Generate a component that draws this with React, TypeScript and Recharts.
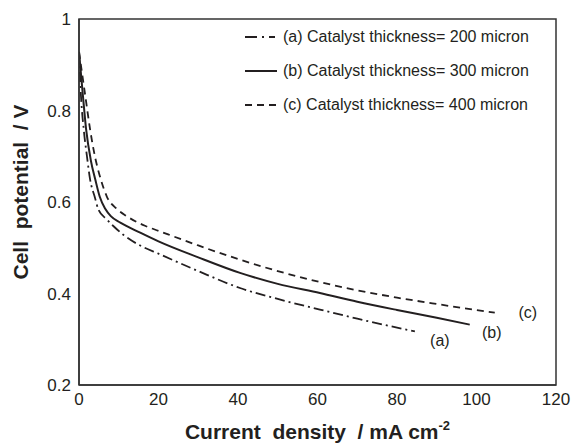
import React from "react";
import { LineChart, Line, XAxis, YAxis, ReferenceArea, Label } from "recharts";

const seriesA = [
  { x: 0, y: 0.928 }, { x: 0.5, y: 0.831 }, { x: 1.2, y: 0.758 }, { x: 2, y: 0.7 },
  { x: 2.8, y: 0.649 }, { x: 4, y: 0.61 }, { x: 4.9, y: 0.583 }, { x: 7, y: 0.562 },
  { x: 8.7, y: 0.547 }, { x: 11.2, y: 0.528 }, { x: 15.8, y: 0.503 }, { x: 20, y: 0.487 },
  { x: 30, y: 0.449 }, { x: 40.5, y: 0.412 }, { x: 50, y: 0.388 }, { x: 60.6, y: 0.365 },
  { x: 70, y: 0.345 }, { x: 84.5, y: 0.317 },
];
const seriesB = [
  { x: 0, y: 0.928 }, { x: 1, y: 0.831 }, { x: 1.8, y: 0.758 }, { x: 3, y: 0.69 },
  { x: 4.1, y: 0.649 }, { x: 5.2, y: 0.612 }, { x: 6.6, y: 0.585 }, { x: 8, y: 0.569 },
  { x: 10.4, y: 0.555 }, { x: 15.4, y: 0.533 }, { x: 20, y: 0.514 }, { x: 30, y: 0.479 },
  { x: 40.5, y: 0.445 }, { x: 50, y: 0.421 }, { x: 60.6, y: 0.401 }, { x: 70, y: 0.382 },
  { x: 80, y: 0.364 }, { x: 90, y: 0.347 }, { x: 98.3, y: 0.332 },
];
const seriesC = [
  { x: 0, y: 0.928 }, { x: 1.6, y: 0.831 }, { x: 2.8, y: 0.758 }, { x: 4, y: 0.7 },
  { x: 5.5, y: 0.649 }, { x: 7, y: 0.612 }, { x: 9.5, y: 0.585 }, { x: 12, y: 0.569 },
  { x: 16.6, y: 0.548 }, { x: 20, y: 0.537 }, { x: 30, y: 0.505 }, { x: 40.5, y: 0.474 },
  { x: 50, y: 0.449 }, { x: 60.6, y: 0.425 }, { x: 70, y: 0.407 }, { x: 80, y: 0.391 },
  { x: 90, y: 0.377 }, { x: 104.6, y: 0.358 },
];

const xTicks = [0, 20, 40, 60, 80, 100, 120];
const yTicks = [0.2, 0.4, 0.6, 0.8, 1];
const legendNames = [
  "(a) Catalyst thickness= 200 micron",
  "(b) Catalyst thickness= 300 micron",
  "(c) Catalyst thickness= 400 micron",
];
const endTags = ["(a)", "(b)", "(c)"];

const INK = "#231f20";
const FONT = "'Liberation Sans', Arial, Helvetica, sans-serif";
const dashes = ["10 4 2 4", undefined, "7 5"];

const makeEndLabel = (len: number, tag: string, dx: number, dy: number) => (props: any) => {
  const { x, y, index } = props;
  if (index !== len - 1) return null;
  return (
    <text x={x + dx} y={y + dy} textAnchor="middle" dominantBaseline="central" fontSize={16} fontFamily={FONT} fill={INK}>
      {tag}
    </text>
  );
};

const LegendBox = () => (
  <div style={{ position: "absolute", top: 20, left: 245, fontFamily: FONT, fontSize: 16, color: INK }}>
    {legendNames.map((n, i) => (
      <div key={n} style={{ height: 34, display: "flex", alignItems: "center", whiteSpace: "nowrap" }}>
        <svg width={34} height={10} style={{ marginRight: 4 }}>
          <line x1={0} y1={5} x2={32} y2={5} stroke={INK} strokeWidth={2} strokeDasharray={i === 0 ? "12 5 2 5 6 20" : dashes[i]} />
        </svg>
        <span>{n}</span>
      </div>
    ))}
  </div>
);

const YTitle = () => {
  const cx = 20;
  const cy = 192;
  return (
    <text x={cx} y={cy} transform={`rotate(-90 ${cx} ${cy})`} textAnchor="middle" dominantBaseline="central" fontSize={21} fontWeight="bold" fontFamily={FONT} fill={INK} style={{ whiteSpace: "pre" }}>
      {"Cell  potential  / V"}
    </text>
  );
};

const XTitle = (props: any) => {
  const vb = props.viewBox || {};
  const cx = vb.x + vb.width / 2;
  return (
    <text x={cx} y={439} textAnchor="middle" fontSize={21} fontWeight="bold" fontFamily={FONT} fill={INK} style={{ whiteSpace: "pre" }}>
      {"Current  density  / mA cm"}
      <tspan fontSize={13} dy={-9}>-2</tspan>
    </text>
  );
};

export default function App() {
  return (
    <div style={{ position: "absolute", left: 0, top: 0, width: 573, height: 447, background: "#fff" }}>
      <LineChart width={573} height={447} margin={{ top: 19, right: 17, left: 0, bottom: 32 }}>
        <XAxis
          type="number"
          dataKey="x"
          domain={[0, 120]}
          ticks={xTicks}
          tickLine={false}
          axisLine={{ stroke: "#333", strokeWidth: 1.5 }}
          tick={{ fontSize: 17, fontFamily: FONT, fill: INK }}
          height={30}
          allowDataOverflow
        >
          <Label content={XTitle} />
        </XAxis>
        <YAxis
          type="number"
          domain={[0.2, 1]}
          ticks={yTicks}
          tickLine={false}
          axisLine={{ stroke: "#333", strokeWidth: 1.5 }}
          tick={{ fontSize: 17, fontFamily: FONT, fill: INK }}
          tickFormatter={(v: number) => (v === 1 ? "1" : String(v))}
          width={79}
          allowDataOverflow
        >
          <Label content={YTitle} />
        </YAxis>
        <ReferenceArea x1={0} x2={120} y1={0.2} y2={1} fill="none" stroke="#333" strokeWidth={1.5} ifOverflow="visible" />
        <Line data={seriesA} dataKey="y" type="monotone" stroke={INK} strokeWidth={1.8} strokeDasharray={dashes[0]} dot={false} isAnimationActive={false} label={makeEndLabel(seriesA.length, endTags[0], 25, 9)} />
        <Line data={seriesB} dataKey="y" type="monotone" stroke={INK} strokeWidth={2} dot={false} isAnimationActive={false} label={makeEndLabel(seriesB.length, endTags[1], 22, 8)} />
        <Line data={seriesC} dataKey="y" type="monotone" stroke={INK} strokeWidth={1.8} strokeDasharray={dashes[2]} dot={false} isAnimationActive={false} label={makeEndLabel(seriesC.length, endTags[2], 33, 0)} />
      </LineChart>
      <LegendBox />
    </div>
  );
}
